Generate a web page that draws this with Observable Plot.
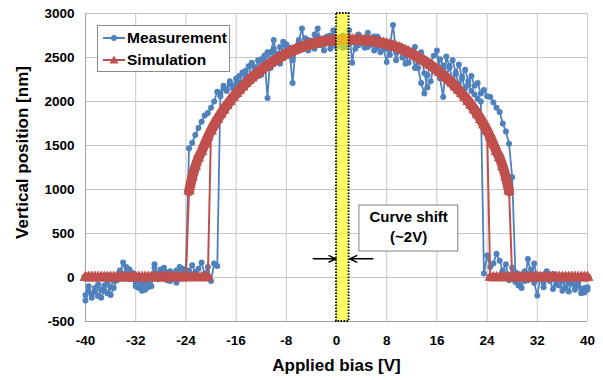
<!DOCTYPE html>
<html><head><meta charset="utf-8">
<script src="https://cdn.jsdelivr.net/npm/d3@7"></script>
<script src="https://cdn.jsdelivr.net/npm/@observablehq/plot@0.6"></script>
<style>
body{margin:0;background:#fff;font-family:"Liberation Sans",Arial,sans-serif;}
#wrap{position:relative;width:603px;height:380px;}
#legend{position:absolute;left:97px;top:25px;width:131px;height:45px;border:1px solid #8c8c8c;background:#fff;font-weight:bold;font-size:15.5px;color:#000;}
.row{position:absolute;left:5px;height:18px;line-height:18px;display:flex;align-items:center;white-space:nowrap;}
.row svg{margin-right:2px;}
</style></head><body><div id="wrap"></div>
<script>
const xTicks = [-40,-32,-24,-16,-8,0,8,16,24,32,40];
const yTicks = [-500,0,500,1000,1500,2000,2500,3000];
const seriesNames = ["Measurement","Simulation"];
const xLabel = "Applied bias [V]";
const yLabel = "Vertical position [nm]";

const bias = [
 -40,-39.5,-39,-38.5,-38,-37.5,-37,-36.5,-36,-35.5,
 -35,-34.5,-34,-33.5,-33,-32.5,-32,-31.5,-31,-30.5,
 -30,-29.5,-29,-28.5,-28,-27.5,-27,-26.5,-26,-25.5,
 -25,-24.5,-24,-23.5,-23,-22.5,-22,-21.5,-21,-20.5,
 -20,-19.5,-19,-18.5,-18,-17.5,-17,-16.5,-16,-15.5,
 -15,-14.5,-14,-13.5,-13,-12.5,-12,-11.5,-11,-10.5,
 -10,-9.5,-9,-8.5,-8,-7.5,-7,-6.5,-6,-5.5,
 -5,-4.5,-4,-3.5,-3,-2.5,-2,-1.5,-1,-0.5,
 0,0.5,1,1.5,2,2.5,3,3.5,4,4.5,
 5,5.5,6,6.5,7,7.5,8,8.5,9,9.5,
 10,10.5,11,11.5,12,12.5,13,13.5,14,14.5,
 15,15.5,16,16.5,17,17.5,18,18.5,19,19.5,
 20,20.5,21,21.5,22,22.5,23,23.5,24,24.5,
 25,25.5,26,26.5,27,27.5,28,28.5,29,29.5,
 30,30.5,31,31.5,32,32.5,33,33.5,34,34.5,
 35,35.5,36,36.5,37,37.5,38,38.5,39,39.5,
 40];

// Measurement, sweep -40 -> +40
const measFwd = [
 -260,-150,-190,-120,-210,-140,-90,-180,-110,-40,
 20,60,170,40,90,10,-60,-120,-80,-140,
 -30,-100,150,40,90,0,60,-40,30,80,
 20,100,50,80,140,60,100,170,40,120,
 -40,160,130,2100,2150,2120,2200,2170,2260,2210,
 2330,2280,2400,2440,2350,2470,2300,2520,2040,2560,
 2700,2480,2620,2540,2650,2590,2210,2620,2700,2830,
 2600,2700,2650,2760,2830,2640,2720,2740,2600,2810,
 2700,2660,2750,2620,2810,2440,2700,2640,2720,2610,
 2780,2650,2580,2740,2680,2600,2450,2620,2870,2560,
 2640,2500,2430,2580,2510,2620,2380,2210,2090,2300,
 2450,2520,2580,2260,2050,2510,2400,2470,2330,2420,
 2280,2360,2230,2290,2180,2210,2090,2130,2060,2050,
 1990,1930,1880,1750,1660,1520,1140,60,-90,20,
 -40,210,40,160,-20,30,-60,70,-10,40,
 -80,20,-150,-30,-70,10,-100,-60,-180,-120,
 -110];

// Measurement, sweep +40 -> -40 (listed in bias order)
const measBwd = [
 -200,-100,-230,-160,-80,-230,-150,-60,-200,-120,
 -30,80,20,120,-20,50,-100,-40,-150,-60,
 -110,20,110,-20,50,110,-30,70,10,-60,
 120,30,70,1470,1530,1620,1700,1770,1840,1870,
 1930,2000,2110,2060,2180,2140,2230,2150,2200,2290,
 2210,2350,2280,2430,2390,2300,2480,2410,2560,2380,
 2600,2540,2430,2680,2520,2610,2470,2570,2680,2590,
 2720,2580,2680,2600,2740,2660,2580,2700,2750,2650,
 2620,2700,2610,2740,2660,2720,2600,2760,2660,2700,
 2620,2690,2740,2610,2560,2680,2600,2530,2640,2470,
 2590,2620,2520,2440,2560,2380,2500,2560,2320,2160,
 2230,2400,2330,2480,2410,2300,2380,2250,2310,2200,
 2260,2150,2190,2120,2080,2030,2000,45,250,120,
 160,270,190,80,150,-30,110,-50,40,-120,
 70,-30,90,-60,-205,10,-110,50,-40,-130,
 0,-90,-40,-120,-160,-60,-140,-90,-130,-170,
 -140];

// Simulation, sweep -40 -> +40
const simFwd = [
 0,0,0,0,0,0,0,0,0,0,
 0,0,0,0,0,0,0,0,0,0,
 0,0,0,0,0,0,0,0,0,0,
 0,0,0,0,0,0,0,0,0,0,
 1667,1733,1794,1851,1904,1954,2001,2046,2088,2128,
 2166,2202,2236,2269,2300,2330,2358,2385,2411,2436,
 2459,2481,2502,2522,2541,2559,2576,2591,2605,2618,
 2630,2641,2651,2660,2668,2675,2681,2686,2690,2693,
 2696,2698,2699,2700,2700,2700,2699,2698,2696,2693,
 2690,2686,2681,2675,2668,2660,2651,2641,2630,2618,
 2605,2591,2576,2559,2541,2522,2502,2481,2459,2436,
 2411,2385,2358,2330,2300,2269,2236,2202,2166,2128,
 2088,2046,2001,1954,1904,1851,1794,1733,1667,1595,
 1515,1430,1360,1260,1140,980,0,0,0,0,
 0,0,0,0,0,0,0,0,0,0,
 0,0,0,0,0,0,0,0,0,0,
 0];

// Simulation, sweep +40 -> -40 (listed in bias order)
const simBwd = [
 0,0,0,0,0,0,0,0,0,0,
 0,0,0,0,0,0,0,0,0,0,
 0,0,0,0,0,0,0,0,0,0,
 0,0,0,980,1140,1260,1360,1430,1515,1595,
 1667,1733,1794,1851,1904,1954,2001,2046,2088,2128,
 2166,2202,2236,2269,2300,2330,2358,2385,2411,2436,
 2459,2481,2502,2522,2541,2559,2576,2591,2605,2618,
 2630,2641,2651,2660,2668,2675,2681,2686,2690,2693,
 2696,2698,2699,2700,2700,2700,2699,2698,2696,2693,
 2690,2686,2681,2675,2668,2660,2651,2641,2630,2618,
 2605,2591,2576,2559,2541,2522,2502,2481,2459,2436,
 2411,2385,2358,2330,2300,2269,2236,2202,2166,2128,
 2088,2046,2001,1954,1904,1851,1794,1733,1667,0,
 0,0,0,0,0,0,0,0,0,0,
 0,0,0,0,0,0,0,0,0,0,
 0,0,0,0,0,0,0,0,0,0,
 0];

// Annotation: highlighted shift band, note box, arrows
const shiftBand = [{x1: 0, x2: 2}];
const noteBox = [{x1: 3.65, x2: 19.4, y1: 295, y2: 818}];
const noteLines = [{x: 11.5, y: 685, text: "Curve shift"}, {x: 11.5, y: 455, text: "(~2V)"}];
const arrows = [{x1: -3.7, x2: -0.1, y: 212}, {x1: 5.8, x2: 2.1, y: 212}];

[measFwd, measBwd, simFwd, simBwd].forEach((a, k) => {
  if (a.length !== bias.length) throw new Error("length mismatch in array " + k + ": " + a.length);
});

const blue = "#4F81BD", red = "#C0504D";
const toRows = arr => bias.map((b, i) => ({b, y: arr[i]}));
const mF = toRows(measFwd), mB = toRows(measBwd), sF = toRows(simFwd), sB = toRows(simBwd);
// branches of the simulation (zero-left, curve, zero-right) drawn as dense marker bands
const branch = d => d.y === 0 ? (d.b < 0 ? "zl" : "zr") : "c";
const curveOnly = arr => arr.filter(d => d.y !== 0);
const zeroOnly = arr => arr.filter(d => d.y === 0);
const font = '"Liberation Sans", Arial, sans-serif';

const chart = Plot.plot({
  width: 603, height: 380,
  marginLeft: 85, marginRight: 16, marginTop: 13, marginBottom: 59,
  style: {fontFamily: font, fontWeight: "bold", color: "#000", background: "#fff"},
  x: {domain: [-40, 40]},
  y: {domain: [-500, 3000]},
  marks: [
    Plot.gridX(xTicks, {stroke: "#c6c6c6", strokeOpacity: 1, strokeWidth: 1}),
    Plot.gridY(yTicks, {stroke: "#c6c6c6", strokeOpacity: 1, strokeWidth: 1}),
    Plot.ruleX([-40], {stroke: "#a0a0a0", strokeWidth: 1}),
    Plot.ruleY([-500], {stroke: "#a0a0a0", strokeWidth: 1}),
    Plot.axisX(xTicks, {tickSize: 0, tickPadding: 14, tickFormat: d => String(d), fontSize: 13.5, fontWeight: "bold", label: null}),
    Plot.axisY(yTicks, {tickSize: 0, tickPadding: 11, tickFormat: d => String(d), fontSize: 13.5, fontWeight: "bold", label: null}),
    Plot.text([xLabel], {frameAnchor: "bottom", textAnchor: "middle", lineAnchor: "middle", dy: 44, fontSize: 17, fontWeight: "bold", text: d => d}),
    Plot.text([yLabel], {frameAnchor: "left", textAnchor: "middle", lineAnchor: "middle", dx: -63, dy: -15, rotate: -90, fontSize: 17, fontWeight: "bold", text: d => d}),
    Plot.line(mF, {x: "b", y: "y", stroke: blue, strokeWidth: 1.8}),
    Plot.line(mB, {x: "b", y: "y", stroke: blue, strokeWidth: 1.8}),
    Plot.dot(mF, {x: "b", y: "y", r: 3, fill: blue, stroke: "none"}),
    Plot.dot(mB, {x: "b", y: "y", r: 3, fill: blue, stroke: "none"}),
    Plot.line(sF, {x: "b", y: "y", stroke: red, strokeWidth: 2}),
    Plot.line(sB, {x: "b", y: "y", stroke: red, strokeWidth: 2}),
    Plot.line(curveOnly(sF), {x: "b", y: "y", stroke: red, strokeWidth: 10}),
    Plot.line(curveOnly(sB), {x: "b", y: "y", stroke: red, strokeWidth: 10}),
    Plot.line(zeroOnly(sF), {x: "b", y: "y", z: branch, stroke: red, strokeWidth: 8}),
    Plot.line(zeroOnly(sB), {x: "b", y: "y", z: branch, stroke: red, strokeWidth: 8}),
    Plot.dot(sF, {x: "b", y: "y", r: 4.3, symbol: "triangle", fill: red, stroke: "none"}),
    Plot.dot(sB, {x: "b", y: "y", r: 4.3, symbol: "triangle", fill: red, stroke: "none"}),
    Plot.rect(shiftBand, {x1: "x1", x2: "x2", y1: -500, y2: 3000, fill: "#ffff00", fillOpacity: 0.6, stroke: "#000", strokeWidth: 1.8, strokeDasharray: "1.6,1.4"}),
    Plot.rect(noteBox, {x1: "x1", x2: "x2", y1: "y1", y2: "y2", fill: "#fff", stroke: "#7f7f7f", strokeWidth: 1}),
    Plot.text(noteLines, {x: "x", y: "y", text: "text", fontSize: 15, fontWeight: "bold", fill: "#000"}),
    Plot.arrow(arrows, {x1: "x1", x2: "x2", y1: "y", y2: "y", stroke: "#000", strokeWidth: 1.5, headLength: 9, headAngle: 50})
  ]
});

const wrap = document.getElementById("wrap");
wrap.appendChild(chart);

const legend = document.createElement("div");
legend.id = "legend";
legend.innerHTML = `
 <div class="row" style="top:3px"><svg width="22" height="12"><line x1="0" y1="6" x2="22" y2="6" stroke="${blue}" stroke-width="2"/><circle cx="11" cy="6" r="3" fill="${blue}"/></svg><span>${seriesNames[0]}</span></div>
 <div class="row" style="top:25px"><svg width="22" height="12"><line x1="0" y1="6" x2="22" y2="6" stroke="${red}" stroke-width="2"/><polygon points="11,1.5 15.5,9.5 6.5,9.5" fill="${red}"/></svg><span>${seriesNames[1]}</span></div>`;
wrap.appendChild(legend);
</script></body></html>
